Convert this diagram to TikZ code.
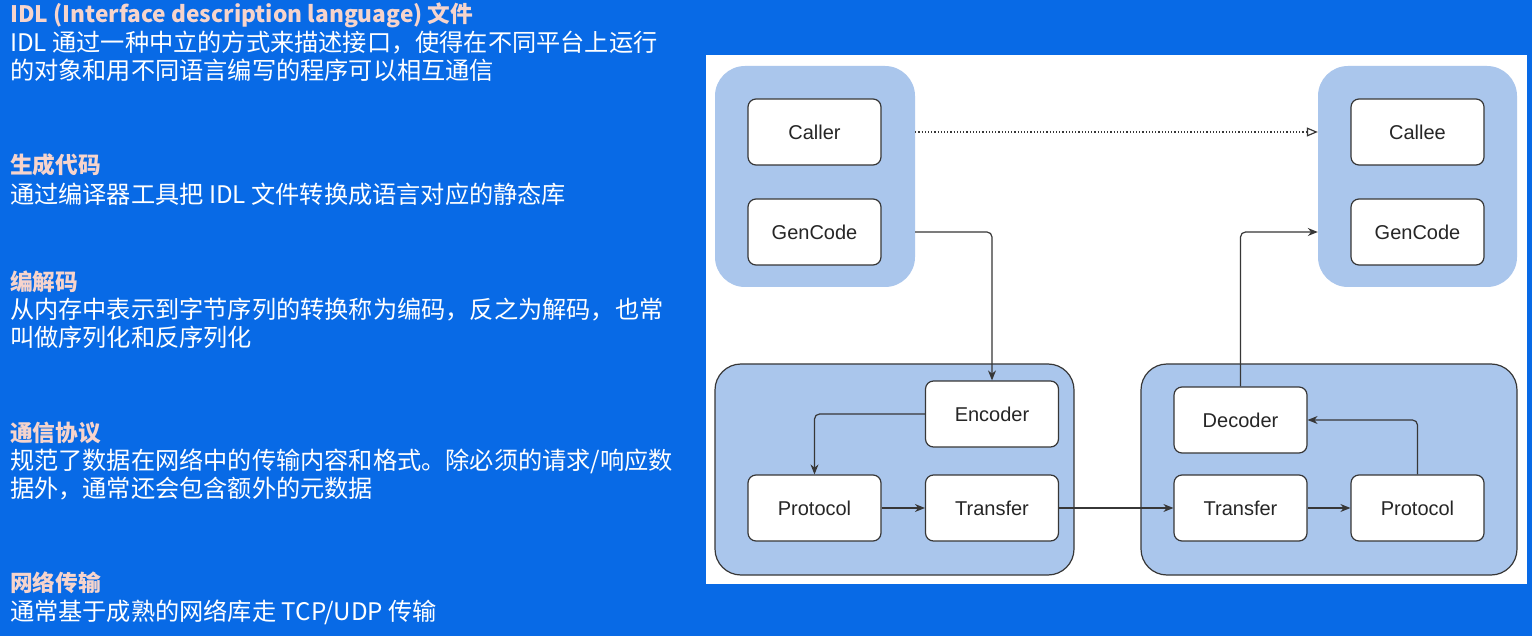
\documentclass[tikz,border=0pt]{standalone}
\usepackage{fontspec}
\setmainfont{Liberation Sans}
\newfontfamily\cjk{Noto Sans CJK SC}
\usetikzlibrary{arrows.meta,positioning}
\definecolor{bgblue}{RGB}{8,106,230}
\definecolor{grpblue}{RGB}{170,198,236}
\definecolor{headc}{RGB}{246,212,204}
\definecolor{edgec}{RGB}{55,55,55}
\tikzset{
  box/.style={draw=edgec,line width=1.2pt,fill=white,rounded corners=8pt,minimum width=133pt,minimum height=66pt,font=\fontsize{20}{23}\selectfont,text=black!85},
  grp/.style={fill=grpblue,rounded corners=30pt,inner sep=0pt},
  grpb/.style={fill=grpblue,draw=edgec,line width=1.2pt,rounded corners=26pt,inner sep=0pt},
  conn/.style={draw=edgec,line width=1.2pt,rounded corners=5pt,-{Stealth[length=10pt,width=8pt]}},
  head/.style={anchor=west,text=headc,font=\cjk\bfseries\fontsize{22.7}{26}\selectfont,inner sep=0pt},
  body/.style={anchor=west,text=white,font=\cjk\fontsize{24.2}{28}\selectfont,inner sep=0pt,align=left},
}
\begin{document}
\begin{tikzpicture}[x=1pt,y=-1pt]
\fill[bgblue] (0,0) rectangle (1532,636);
\useasboundingbox (0,0) rectangle (1532,636);
% left text
\node[head] (h1) at (10,15) {IDL (Interface description language) 文件};
\node[body,anchor=north west] (b1) at (10,31) {IDL 通过一种中立的方式来描述接口，使得在不同平台上运行\\的对象和用不同语言编写的程序可以相互通信};
\node[head] (h2) at (10,165) {生成代码};
\node[body] (b2) at (10,194) {通过编译器工具把 IDL 文件转换成语言对应的静态库};
\node[head] (h3) at (10,282) {编解码};
\node[body,anchor=north west] (b3) at (10,298) {从内存中表示到字节序列的转换称为编码，反之为解码，也常\\叫做序列化和反序列化};
\node[head] (h4) at (10,433) {通信协议};
\node[body,anchor=north west] (b4) at (10,449) {规范了数据在网络中的传输内容和格式。除必须的请求/响应数\\据外，通常还会包含额外的元数据};
\node[head] (h5) at (10,583) {网络传输};
\node[body] (b5) at (10,612) {通常基于成熟的网络库走 TCP/UDP 传输};
% white panel
\fill[white] (706,55) rectangle (1527,584);
% groups
\node[grp,minimum width=200pt,minimum height=221pt] (tlg) at (815,176.5) {};
\node[grp,minimum width=199pt,minimum height=221pt] (trg) at (1417.5,176.5) {};
\node[grpb,minimum width=359pt,minimum height=211pt] (blg) at (894.5,469.5) {};
\node[grpb,minimum width=376pt,minimum height=211pt] (brg) at (1329,469.5) {};
% boxes
\node[box] (caller) at (814.5,132) {Caller};
\node[box] (gcl) at (814.5,232) {GenCode};
\node[box] (callee) at (1417.5,132) {Callee};
\node[box] (gcr) at (1417.5,232) {GenCode};
\node[box] (enc) at (992,414) {Encoder};
\node[box] (protl) at (814.5,508) {Protocol};
\node[box] (trl) at (992,508) {Transfer};
\node[box] (dec) at (1240.5,420) {Decoder};
\node[box] (trr) at (1240.5,508) {Transfer};
\node[box] (protr) at (1417.5,508) {Protocol};
% connectors
\draw[draw=edgec,line width=1.2pt,dotted,-{Triangle[open,length=11pt,width=9pt]}] (caller.east -| tlg.east) -- (caller.east -| trg.west);
\draw[conn] (gcl.east -| tlg.east) -| (enc.north);
\draw[conn] (enc.west) -| (protl.north);
\draw[conn] (protl.east) -- (trl.west);
\draw[conn] (trl.east) -- (trr.west);
\draw[conn] (trr.east) -- (protr.west);
\draw[conn] (protr.north) |- (dec.east);
\draw[conn] (dec.north) |- (gcr.west -| trg.west);
\end{tikzpicture}
\end{document}
